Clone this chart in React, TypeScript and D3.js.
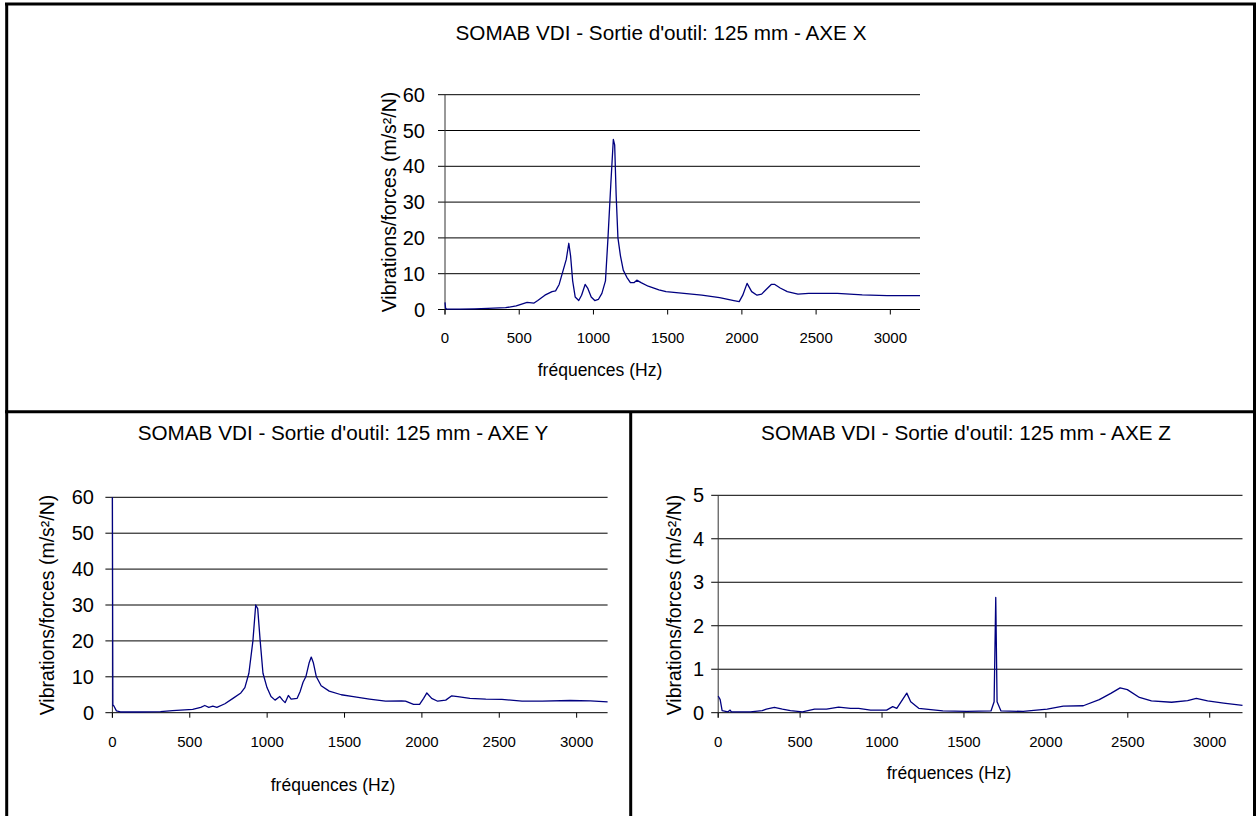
import React from "react";
import * as d3 from "d3";

const xTickValues = [0, 500, 1000, 1500, 2000, 2500, 3000];
const yTicksXY = [0, 10, 20, 30, 40, 50, 60];
const yTicksZ = [0, 1, 2, 3, 4, 5];

const titleX = "SOMAB VDI - Sortie d'outil: 125 mm - AXE X";
const titleY = "SOMAB VDI - Sortie d'outil: 125 mm - AXE Y";
const titleZ = "SOMAB VDI - Sortie d'outil: 125 mm - AXE Z";
const xAxisTitle = "fréquences (Hz)";
const yAxisTitle = "Vibrations/forces (m/s²/N)";

const seriesX: [number, number][] = [
  [0, 2], [4, 0.3], [12, 0.1], [100, 0.1], [200, 0.2], [288, 0.3], [408, 0.5], [480, 1.0],
  [553, 2.0], [600, 1.8], [625, 2.5], [673, 4], [721, 5], [745, 5.2], [769, 7], [793, 10.5],
  [817, 14], [834, 18.5], [846, 15], [860, 8], [877, 3.5], [901, 2.5], [920, 4], [944, 7],
  [961, 6], [985, 3.5], [1009, 2.5], [1033, 2.8], [1057, 4.5], [1081, 8], [1098, 20], [1117, 35],
  [1134, 47.5], [1143, 46], [1153, 32], [1165, 20], [1182, 15], [1201, 11], [1225, 9], [1249, 7.5],
  [1273, 7.5], [1292, 8.2], [1321, 7.5], [1369, 6.5], [1441, 5.5], [1489, 5], [1610, 4.5],
  [1730, 4], [1850, 3.3], [1946, 2.5], [1982, 2.2], [2006, 4], [2035, 7.3], [2066, 5], [2102, 4],
  [2133, 4.3], [2162, 5.5], [2198, 7.0], [2222, 7.0], [2258, 6], [2306, 5], [2378, 4.3],
  [2450, 4.5], [2643, 4.5], [2811, 4.1], [2979, 3.9], [3200, 3.9],
];

const seriesY: [number, number][] = [
  [0, 60], [3, 2.0], [8, 2.0], [26, 0.5], [52, 0.2], [182, 0.2], [311, 0.3], [389, 0.6],
  [519, 0.9], [571, 1.5], [597, 2.0], [623, 1.5], [649, 1.8], [675, 1.5], [727, 2.5], [779, 4],
  [830, 5.5], [856, 7], [882, 11], [908, 20], [926, 30], [939, 29], [955, 20], [973, 11],
  [999, 7], [1025, 4.5], [1051, 3.5], [1082, 4.5], [1100, 3.5], [1116, 2.8], [1137, 4.8],
  [1155, 3.8], [1194, 4], [1214, 6], [1232, 8.5], [1250, 10], [1272, 14], [1285, 15.5],
  [1298, 14], [1318, 10], [1349, 7.5], [1401, 6], [1479, 5], [1557, 4.5], [1661, 3.8],
  [1765, 3.2], [1868, 3.3], [1894, 3.2], [1946, 2.3], [1985, 2.3], [2011, 4], [2032, 5.5],
  [2063, 4], [2102, 3.2], [2154, 3.5], [2193, 4.7], [2232, 4.5], [2310, 4], [2413, 3.8],
  [2517, 3.7], [2647, 3.2], [2777, 3.2], [2958, 3.4], [3088, 3.3], [3200, 3.0],
];

const seriesZ: [number, number][] = [
  [0, 0.38], [5, 0.35], [12, 0.3], [24, 0.05], [60, 0.02], [73, 0.06], [80, 0.02], [196, 0.02],
  [269, 0.05], [294, 0.08], [343, 0.12], [392, 0.08], [441, 0.05], [514, 0.02], [588, 0.08],
  [661, 0.08], [735, 0.13], [808, 0.1], [857, 0.1], [930, 0.06], [1028, 0.06], [1065, 0.14],
  [1090, 0.1], [1151, 0.45], [1175, 0.25], [1224, 0.1], [1371, 0.04], [1518, 0.03],
  [1665, 0.04], [1684, 0.25], [1694, 2.65], [1702, 0.25], [1726, 0.04], [1861, 0.03],
  [2008, 0.08], [2106, 0.15], [2228, 0.16], [2326, 0.3], [2399, 0.45], [2453, 0.57],
  [2497, 0.53], [2571, 0.35], [2644, 0.27], [2767, 0.24], [2865, 0.28], [2918, 0.33],
  [2987, 0.27], [3085, 0.22], [3200, 0.17],
];

const FONT = "'Liberation Sans', Arial, Helvetica, sans-serif";

type ChartProps = {
  data: [number, number][];
  title: string;
  x0: number; x1: number; y0: number; yTop: number;
  yMax: number; yTicks: number[];
  tickLabelRight: number;
  yTitleX: number; yTitleY: number;
  xTickLabelY: number;
  xTitleX: number; xTitleY: number;
  titleCX: number; titleCY: number;
};

function Chart(p: ChartProps) {
  const x = d3.scaleLinear().domain([0, 3200]).range([p.x0, p.x1]);
  const y = d3.scaleLinear().domain([0, p.yMax]).range([p.y0, p.yTop]);
  const line = d3.line<[number, number]>().x((d) => x(d[0])).y((d) => y(d[1]));
  return (
    <g fontFamily={FONT} fill="#000">
      <text x={p.titleCX} y={p.titleCY} textAnchor="middle" dominantBaseline="central" fontSize={20.7}>
        {p.title}
      </text>
      {p.yTicks.map((t) => (
        <g key={"y" + t}>
          <line x1={p.x0 - 7} x2={p.x1} y1={y(t)} y2={y(t)} stroke="#000" strokeWidth={1} />
          <text x={p.tickLabelRight} y={y(t)} textAnchor="end" dominantBaseline="central" fontSize={20}>
            {t}
          </text>
        </g>
      ))}
      <line x1={p.x0} x2={p.x0} y1={p.yTop} y2={p.y0 + 5} stroke="#333" strokeWidth={1} />
      {xTickValues.map((t) => (
        <g key={"x" + t}>
          <line x1={x(t)} x2={x(t)} y1={p.y0} y2={p.y0 + 5} stroke="#000" strokeWidth={1} />
          <text x={x(t)} y={p.xTickLabelY} textAnchor="middle" dominantBaseline="central" fontSize={15}>
            {t}
          </text>
        </g>
      ))}
      <path d={line(p.data) || ""} fill="none" stroke="#000080" strokeWidth={1.3} strokeLinejoin="round" />
      <text x={p.xTitleX} y={p.xTitleY} textAnchor="middle" dominantBaseline="central" fontSize={17.5}>
        {xAxisTitle}
      </text>
      <text
        transform={`translate(${p.yTitleX},${p.yTitleY}) rotate(-90)`}
        textAnchor="middle"
        dominantBaseline="central"
        fontSize={19.5}
      >
        {yAxisTitle}
      </text>
    </g>
  );
}

export default function App() {
  return (
    <svg
      width={1259}
      height={816}
      style={{ position: "absolute", left: 0, top: 0, background: "#fff" }}
    >
      <rect x={0} y={0} width={1259} height={816} fill="#fff" />
      <Chart
        data={seriesX} title={titleX}
        x0={445} x1={920} y0={309.5} yTop={94.7} yMax={60} yTicks={yTicksXY}
        tickLabelRight={425} yTitleX={389} yTitleY={202} xTickLabelY={337}
        xTitleX={600} xTitleY={370} titleCX={661} titleCY={32}
      />
      <Chart
        data={seriesY} title={titleY}
        x0={112.4} x1={607.6} y0={712.7} yTop={497.3} yMax={60} yTicks={yTicksXY}
        tickLabelRight={94} yTitleX={47} yTitleY={605} xTickLabelY={741}
        xTitleX={333} xTitleY={785} titleCX={343} titleCY={432}
      />
      <Chart
        data={seriesZ} title={titleZ}
        x0={718.2} x1={1242.5} y0={712.7} yTop={495.3} yMax={5} yTicks={yTicksZ}
        tickLabelRight={704} yTitleX={674} yTitleY={605} xTickLabelY={741}
        xTitleX={949} xTitleY={773} titleCX={966} titleCY={432}
      />
      <g stroke="#000" strokeWidth={3} fill="none">
        <line x1={6.7} x2={6.7} y1={3} y2={816} />
        <line x1={1254.5} x2={1254.5} y1={3} y2={816} />
        <line x1={5} x2={1256} y1={4} y2={4} />
        <line x1={5} x2={1256} y1={411.7} y2={411.7} />
        <line x1={630.7} x2={630.7} y1={411.7} y2={816} />
      </g>
    </svg>
  );
}
